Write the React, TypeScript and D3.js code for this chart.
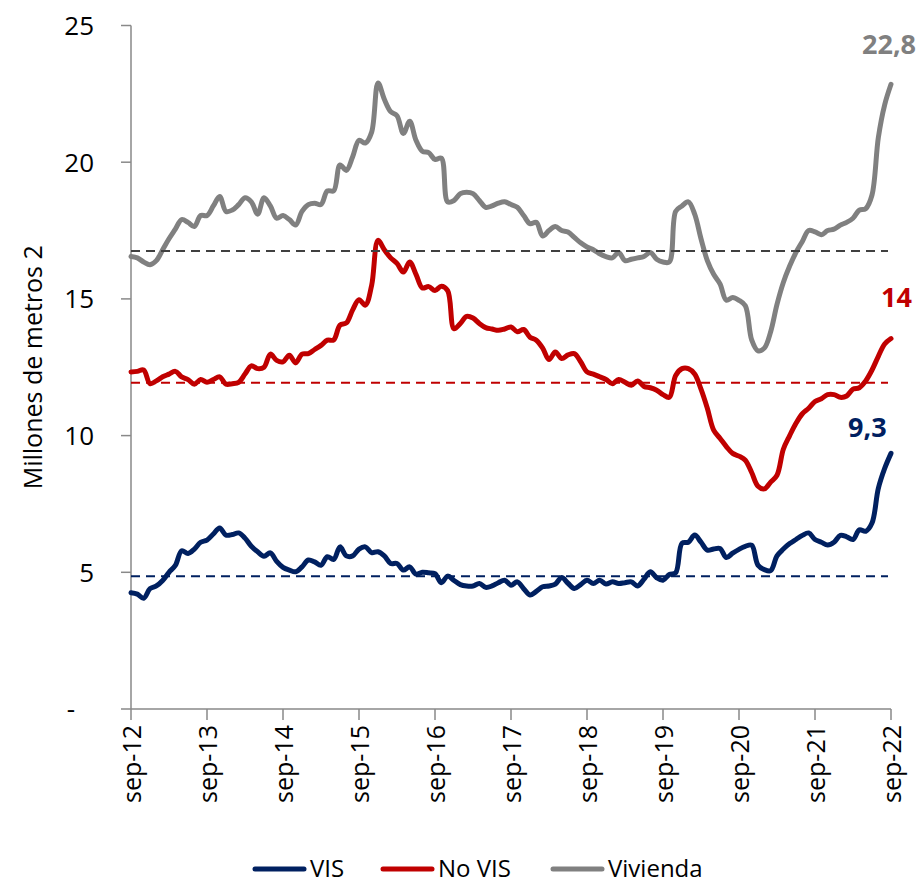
import React, { useRef, useEffect } from 'react';
import { select, scaleLinear, line, curveCatmullRom } from 'd3';

// monthly series, sep-12 .. sep-22 (millones de m2)
const vis = [
  4.25, 4.2, 4.05, 4.4, 4.5, 4.7, 5.0, 5.25, 5.79, 5.69, 5.85, 6.1, 6.18, 6.4, 6.62, 6.36,
  6.38, 6.44, 6.25, 5.95, 5.75, 5.59, 5.71, 5.4, 5.18, 5.08, 5.02, 5.2, 5.45, 5.38, 5.26, 5.57,
  5.47, 5.93, 5.6, 5.6, 5.85, 5.93, 5.72, 5.75, 5.6, 5.32, 5.32, 5.08, 5.2, 4.93, 5.0, 4.98,
  4.95, 4.62, 4.86, 4.7, 4.55, 4.5, 4.5, 4.59, 4.45, 4.5, 4.62, 4.71, 4.53, 4.65, 4.4, 4.17,
  4.3, 4.47, 4.5, 4.57, 4.81, 4.6, 4.41, 4.55, 4.71, 4.59, 4.71, 4.57, 4.65, 4.59, 4.62, 4.65,
  4.5, 4.75, 5.02, 4.8, 4.71, 4.92, 4.98, 6.06, 6.1, 6.36, 6.1, 5.81, 5.85, 5.87, 5.54, 5.7,
  5.84, 5.95, 5.99, 5.26, 5.1, 5.06, 5.6, 5.85, 6.05, 6.2, 6.35, 6.44, 6.2, 6.1, 6.0, 6.1,
  6.35, 6.3, 6.2, 6.55, 6.5, 6.8, 8.07, 8.8, 9.35,
];
const noVis = [
  12.33, 12.35, 12.4, 11.9, 12.0, 12.15, 12.25, 12.35, 12.15, 12.05, 11.88, 12.05, 11.95, 12.05, 12.15, 11.88,
  11.9, 11.95, 12.25, 12.55, 12.45, 12.5, 12.98, 12.75, 12.7, 12.94, 12.66, 12.98, 13.0, 13.15, 13.3, 13.49,
  13.5, 14.04, 14.12, 14.6, 14.97, 14.77, 15.5, 17.14, 16.8, 16.5, 16.3, 15.98, 16.35, 15.9, 15.4, 15.45,
  15.31, 15.46, 15.3, 13.91, 14.1, 14.36, 14.3, 14.1, 13.95, 13.9, 13.85, 13.9, 13.97, 13.8, 13.88, 13.6,
  13.49, 13.2, 12.78, 13.06, 12.82, 12.95, 13.0, 12.7, 12.33, 12.25, 12.15, 12.05, 11.9, 12.05, 11.95, 11.84,
  12.0, 11.8, 11.75, 11.66, 11.5, 11.4, 12.2, 12.45, 12.45, 12.25, 11.7, 11.0, 10.2, 9.9, 9.6, 9.35,
  9.25, 9.1, 8.65, 8.15, 8.05, 8.3, 8.55, 9.5, 10.0, 10.45, 10.8, 11.0, 11.25, 11.35, 11.5, 11.5,
  11.4, 11.45, 11.7, 11.75, 12.0, 12.4, 12.9, 13.35, 13.55,
];
const vivienda = [
  16.55, 16.5, 16.35, 16.25, 16.4, 16.8, 17.2, 17.55, 17.9, 17.8, 17.65, 18.05, 18.05, 18.4, 18.75, 18.2,
  18.25, 18.45, 18.7, 18.55, 18.1, 18.7, 18.4, 17.95, 18.05, 17.9, 17.7, 18.2, 18.45, 18.5, 18.45, 18.95,
  18.95, 19.9, 19.7, 20.2, 20.8, 20.7, 21.1, 22.9, 22.3, 21.85, 21.7, 21.05, 21.5, 20.8, 20.4, 20.35,
  20.1, 20.15, 18.55, 18.6, 18.85, 18.9, 18.85, 18.6, 18.35, 18.4, 18.5, 18.55, 18.45, 18.35, 18.05, 17.75,
  17.8, 17.3, 17.5, 17.65, 17.5, 17.45, 17.25, 17.05, 16.9, 16.8, 16.65, 16.55, 16.5, 16.7, 16.4, 16.45,
  16.5, 16.55, 16.7, 16.45, 16.35, 16.35, 18.2, 18.4, 18.55, 18.1, 17.2, 16.4, 15.9, 15.55, 14.95, 15.05,
  14.95, 14.75, 13.5, 13.1, 13.2, 13.8, 14.8, 15.6, 16.2, 16.7, 17.1, 17.5, 17.45, 17.35, 17.5, 17.55,
  17.7, 17.8, 17.95, 18.25, 18.3, 18.8, 20.9, 22.1, 22.85,
];
const averages = [4.86, 11.93, 16.75];
const endLabels = ['9,3', '14', '22,8'];
const seriesNames = ['VIS', 'No VIS', 'Vivienda'];
const xLabels = ['sep-12', 'sep-13', 'sep-14', 'sep-15', 'sep-16', 'sep-17', 'sep-18', 'sep-19', 'sep-20', 'sep-21', 'sep-22'];
const yTicks = [0, 5, 10, 15, 20, 25];

const lineColors = ['#002060', '#C00000', '#808080'];
const avgColors = ['#002060', '#C00000', '#404040'];
const font = "'Open Sans', sans-serif";
const width = 924;
const height = 885;

const App: React.FC = () => {
  const svgRef = useRef<SVGSVGElement>(null);

  useEffect(() => {
    const svg = select(svgRef.current as any);
    svg.selectAll('*').remove();

    const xScale = scaleLinear().domain([0, vis.length - 1]).range([131, 891]);
    const yScale = scaleLinear().domain([0, 25]).range([709, 25.5]);
    const series = [vis, noVis, vivienda];

    // axes
    const axis = svg.append('g').attr('stroke', '#898989').attr('stroke-width', 1.5);
    axis.append('line')
      .attr('x1', xScale(0)).attr('x2', xScale(0))
      .attr('y1', yScale(25)).attr('y2', yScale(0));
    axis.append('line')
      .attr('x1', xScale(0)).attr('x2', xScale(120))
      .attr('y1', yScale(0)).attr('y2', yScale(0));
    axis.selectAll('.ytick')
      .data(yTicks)
      .join('line')
      .attr('class', 'ytick')
      .attr('x1', xScale(0) - 10).attr('x2', xScale(0))
      .attr('y1', (d: number) => yScale(d)).attr('y2', (d: number) => yScale(d));
    axis.selectAll('.xtick')
      .data(xLabels)
      .join('line')
      .attr('class', 'xtick')
      .attr('x1', (_: any, i: number) => xScale(i * 12))
      .attr('x2', (_: any, i: number) => xScale(i * 12))
      .attr('y1', yScale(0)).attr('y2', yScale(0) + 11);

    // y tick labels
    svg.selectAll('.ylabel')
      .data(yTicks)
      .join('text')
      .attr('class', 'ylabel')
      .attr('x', (d: number) => (d === 0 ? 71 : 94))
      .attr('y', (d: number) => yScale(d))
      .attr('dy', '0.36em')
      .attr('text-anchor', (d: number) => (d === 0 ? 'middle' : 'end'))
      .style('font-family', font)
      .style('font-size', '26px')
      .style('fill', '#000')
      .text((d: number) => (d === 0 ? '-' : String(d)));

    // x tick labels (rotated)
    svg.selectAll('.xlabel')
      .data(xLabels)
      .join('text')
      .attr('class', 'xlabel')
      .attr('transform', (_: any, i: number) => `translate(${xScale(i * 12) + 1}, ${yScale(0) + 16}) rotate(-90)`)
      .attr('dy', '0.36em')
      .attr('text-anchor', 'end')
      .style('font-family', font)
      .style('font-size', '25px')
      .style('fill', '#000')
      .text((d: string) => d);

    // y axis title
    svg.append('text')
      .attr('transform', `translate(33, ${(yScale(0) + yScale(25)) / 2}) rotate(-90)`)
      .attr('dy', '0.36em')
      .attr('text-anchor', 'middle')
      .style('font-family', font)
      .style('font-size', '25px')
      .style('fill', '#000')
      .text('Millones de metros 2');

    // series lines
    const path = line()
      .x((_: any, i: number) => xScale(i))
      .y((d: any) => yScale(d))
      .curve(curveCatmullRom.alpha(0.5));

    svg.selectAll('.series')
      .data(series)
      .join('path')
      .attr('class', 'series')
      .attr('d', (d: any) => path(d) as string)
      .attr('fill', 'none')
      .attr('stroke', (_: any, i: number) => lineColors[i])
      .attr('stroke-width', 5)
      .attr('stroke-linejoin', 'round')
      .attr('stroke-linecap', 'round');

    // average dashed lines
    svg.selectAll('.avg')
      .data(averages)
      .join('line')
      .attr('class', 'avg')
      .attr('x1', xScale(0)).attr('x2', xScale(120) - 3)
      .attr('y1', (d: number) => yScale(d)).attr('y2', (d: number) => yScale(d))
      .attr('stroke', (_: any, i: number) => avgColors[i])
      .attr('stroke-width', 2)
      .attr('stroke-dasharray', '9 6');

    // end value labels
    const labelOffsets = [[-43, -16], [-10, -32], [-29, -30]];
    svg.selectAll('.endlabel')
      .data(series)
      .join('text')
      .attr('class', 'endlabel')
      .attr('x', (_: any, i: number) => xScale(120) + labelOffsets[i][0])
      .attr('y', (d: number[], i: number) => yScale(d[d.length - 1]) + labelOffsets[i][1])
      .style('font-family', font)
      .style('font-size', '27px')
      .style('font-weight', 'bold')
      .style('fill', (_: any, i: number) => lineColors[i])
      .text((_: any, i: number) => endLabels[i]);

    // legend
    const legendX = [253, 381, 551];
    const legend = svg.selectAll('.legend')
      .data(seriesNames)
      .join('g')
      .attr('class', 'legend')
      .attr('transform', (_: any, i: number) => `translate(${legendX[i]}, 869)`);
    legend.append('line')
      .attr('x1', 2).attr('x2', 51)
      .attr('y1', 0).attr('y2', 0)
      .attr('stroke', (_: any, i: number) => lineColors[i])
      .attr('stroke-width', 5)
      .attr('stroke-linecap', 'round');
    legend.append('text')
      .attr('x', 57)
      .attr('dy', '0.34em')
      .style('font-family', font)
      .style('font-size', '24px')
      .style('fill', '#000')
      .text((d: string) => d);
  }, []);

  return (
    <svg
      ref={svgRef}
      width={width}
      height={height}
      style={{ position: 'absolute', left: 0, top: 0, background: '#fff' }}
    ></svg>
  );
};

export default App;
